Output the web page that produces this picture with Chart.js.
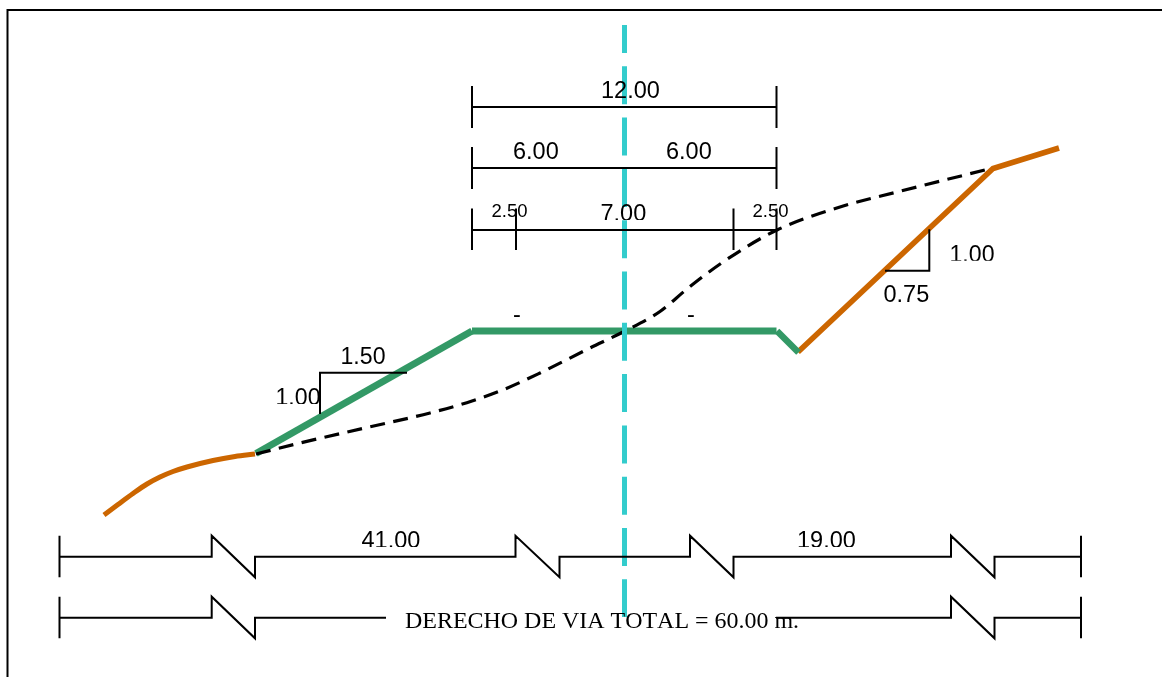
<!DOCTYPE html>
<html>
<head>
<meta charset="utf-8">
<title>Seccion tipica</title>
<script src="https://cdn.jsdelivr.net/npm/chart.js@4/dist/chart.umd.min.js"></script>
<style>
  html, body { margin: 0; padding: 0; background: #fff; overflow: hidden; }
  canvas { display: block; }
</style>
</head>
<body>
<canvas id="chart" width="1162" height="677"></canvas>
<script>
// section profile, in drawing units (axes run 0-1162 and 677-0)
const frameLine = [[7.5, 677], [7.5, 10], [1162, 10]];
const centerLine = [[624.5, 25], [624.5, 617]];
const terrain = [[256, 454], [300, 443], [367, 427.5], [430, 413], [472, 401], [505, 389], [540, 373], [590, 348], [623, 332], [660, 311.5], [687, 289], [723, 262], [777, 230], [840, 207], [897, 192], [993, 168]];
const greenSlope = [[256, 453.5], [472, 331]];
const greenCrown = [[472, 331], [776.5, 331]];
const greenDitch = [[777, 331], [798.5, 352.5]];
const orangeLeft = [[104, 515], [118, 504.5], [133, 493.5], [147, 484], [160, 477], [173, 471.5], [187, 467], [213, 460.5], [235, 456.5], [255, 454]];
const orangeRight = [[798, 352], [993, 168.5], [1059, 148]];

const dim12 = [[472, 107], [776.5, 107]];
const dim6 = [[472, 168], [776.5, 168]];
const dim7 = [[472, 230], [776.5, 230]];
const ticks12 = [[472, 86], [472, 128], null, [776.5, 86], [776.5, 128]];
const ticks6 = [[472, 147], [472, 189], null, [776.5, 147], [776.5, 189]];
const ticks7 = [[472, 208.5], [472, 250], null, [516, 208.5], [516, 250], null, [733.5, 208.5], [733.5, 250], null, [776.5, 208.5], [776.5, 250]];

const slopeLeft = [[320, 414], [320, 372.7], [407, 372.7]];
const slopeRight = [[929.3, 229.3], [929.3, 270.7], [885, 270.7]];

const partialDim = [[59.5, 535.7], [59.5, 577.3], null, [59.5, 556.7], [211.7, 556.7], [211.7, 535.7], [255, 577.3], [255, 556.7], [515.5, 556.7], [515.5, 535.7], [559.5, 577.3], [559.5, 556.7], [690, 556.7], [690, 535.7], [733.5, 577.3], [733.5, 556.7], [951, 556.7], [951, 535.7], [994.5, 577.3], [994.5, 556.7], [1081, 556.7], null, [1081, 535.7], [1081, 577.3]];
const totalDim = [[59.5, 596.7], [59.5, 638.3], null, [59.5, 617.7], [211.7, 617.7], [211.7, 596.7], [255, 638.3], [255, 617.7], [386, 617.7], null, [776, 617.7], [951, 617.7], [951, 596.7], [994.5, 638.3], [994.5, 617.7], [1081, 617.7], null, [1081, 596.7], [1081, 638.3]];

// text labels: string, left edge, baseline, fitted width, clip below
const labelTexts = ["12.00", "6.00", "6.00", "2.50", "7.00", "2.50", "-", "-", "1.50", "1.00", "1.00", "0.75", "41.00", "19.00"];
const labelX = [601, 513, 666, 491.5, 600.5, 752.5, 513, 687, 340.5, 275.5, 949.5, 883.5, 361.5, 797];
const labelY = [98, 158.5, 158.5, 216.7, 221, 216.7, 322, 322, 363.5, 405, 262, 301.7, 548, 548];
const labelFit = [59, 46, 46, 36, 46, 36, 8, 8, 45, 45, 45, 46, 59, 59];
const labelClip = [null, null, null, null, 220, null, null, null, null, 404, 260.7, null, 547, 547];
const totalText = "DERECHO DE VIA TOTAL = 60.00 m.";

function toPoints(list) {
  return list.map(p => p ? { x: p[0], y: p[1] } : { x: NaN, y: NaN });
}

function line(list, color, width, extra) {
  return Object.assign({
    data: toPoints(list),
    showLine: true,
    borderColor: color,
    borderWidth: width,
    pointRadius: 0,
    fill: false,
    spanGaps: false,
    borderCapStyle: 'butt',
    borderJoinStyle: 'miter'
  }, extra || {});
}

const labelPlugin = {
  id: 'labels',
  afterDatasetsDraw(chart) {
    const ctx = chart.ctx;
    const xs = chart.scales.x;
    const ys = chart.scales.y;
    ctx.save();
    ctx.fillStyle = '#000';
    ctx.textBaseline = 'alphabetic';
    ctx.fontKerning = 'none';
    labelTexts.forEach((t, i) => {
      ctx.save();
      if (labelClip[i] !== null) {
        ctx.beginPath();
        ctx.rect(0, 0, chart.width, ys.getPixelForValue(labelClip[i]));
        ctx.clip();
      }
      ctx.font = (t === '2.50' ? 18.5 : 23.5) + 'px "Liberation Sans"';
      ctx.fillText(t, xs.getPixelForValue(labelX[i]), ys.getPixelForValue(labelY[i]), labelFit[i]);
      ctx.restore();
    });
    ctx.font = '24px "Liberation Serif"';
    ctx.fillText(totalText, xs.getPixelForValue(405), ys.getPixelForValue(628), 394);
    ctx.restore();
  }
};

new Chart(document.getElementById('chart'), {
  type: 'scatter',
  data: {
    // first dataset is painted last
    datasets: [
      line(dim12, '#000', 2),
      line(dim6, '#000', 2),
      line(dim7, '#000', 2),
      line(ticks12, '#000', 2),
      line(ticks6, '#000', 2),
      line(ticks7, '#000', 2),
      line(slopeLeft, '#000', 2),
      line(slopeRight, '#000', 2),
      line(partialDim, '#000', 2),
      line(totalDim, '#000', 2),
      line(frameLine, '#000', 2),
      line(centerLine, '#33cccc', 5, { borderDash: [38, 13.3], borderDashOffset: 10 }),
      line(terrain, '#000', 3.2, { borderDash: [15, 8.5], cubicInterpolationMode: 'monotone' }),
      line(greenSlope, '#339966', 7),
      line(greenCrown, '#339966', 7),
      line(greenDitch, '#339966', 6.5),
      line(orangeLeft, '#cc6600', 5, { cubicInterpolationMode: 'monotone' }),
      line(orangeRight, '#cc6600', 5.5)
    ]
  },
  options: {
    responsive: false,
    animation: false,
    devicePixelRatio: 1,
    layout: { padding: 0 },
    plugins: { legend: { display: false }, tooltip: { enabled: false }, title: { display: false } },
    scales: {
      x: { type: 'linear', min: 0, max: 1162, display: false },
      y: { type: 'linear', min: 0, max: 677, reverse: true, display: false }
    }
  },
  plugins: [labelPlugin]
});
</script>
</body>
</html>
